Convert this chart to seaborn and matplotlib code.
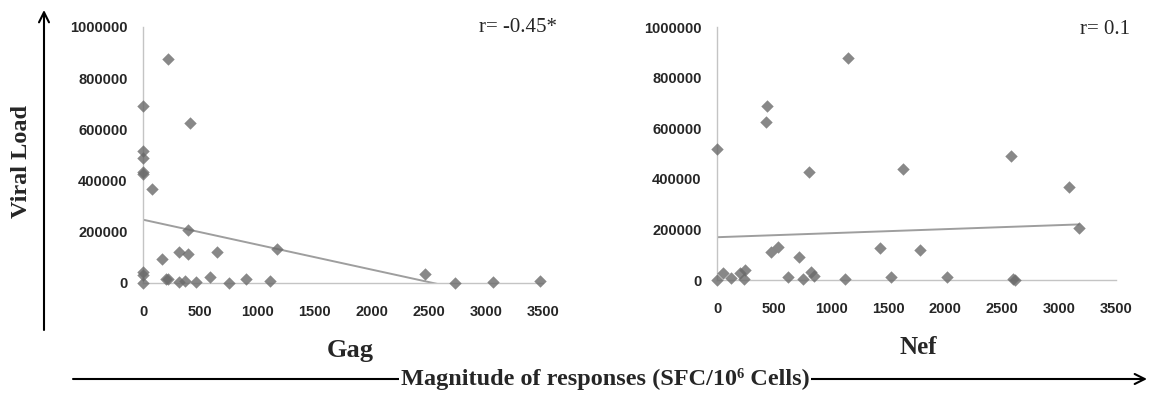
"""Viral load vs magnitude of Gag / Nef responses."""

import matplotlib
matplotlib.use("Agg")
import matplotlib.pyplot as plt
import pandas as pd
import seaborn as sns

# Gag responses (SFC/10^6 cells) and viral load
gag_sfc = [0, 0, 0, 0, 0, 0, 0, 0,
           80, 220, 412, 390, 319, 390, 645, 170, 1170,
           200, 217, 319, 366, 462, 585, 754, 903, 1114,
           2465, 2728, 3060, 3475]
gag_vl = [690000, 515000, 490000, 435000, 425000, 44000, 31000, 0,
          367000, 875000, 625000, 207000, 122000, 112000, 122000, 93000, 132000,
          14000, 16000, 5000, 8000, 5000, 25000, 0, 14000, 8000,
          35000, 0, 5000, 8000]

# Nef responses (SFC/10^6 cells) and viral load
nef_sfc = [0, 437, 431, 803, 1146, 473, 537, 723, 1430,
           0, 53, 127, 200, 244, 240, 620, 757, 825, 847, 1123,
           1630, 2577, 3090, 3172, 1785, 1522, 2014, 2600, 2610]
nef_vl = [516000, 688000, 626000, 426000, 877000, 112000, 132000, 92000, 125000,
          0, 26000, 7000, 29000, 40000, 3000, 11000, 3000, 33000, 16000, 3000,
          437000, 489000, 368000, 205000, 119000, 13000, 13000, 5000, 0]

panel_names = ["Gag", "Nef"]
r_labels = ["r= -0.45*", "r= 0.1"]
x_ticks = [0, 500, 1000, 1500, 2000, 2500, 3000, 3500]
y_ticks = [0, 200000, 400000, 600000, 800000, 1000000]

MARKER = "#6a6a6a"
TREND = "#9e9e9e"
SPINE = "#c4c4c4"
SERIF = ["Liberation Serif", "DejaVu Serif"]
TICKFONT = ["Liberation Sans Narrow", "Liberation Sans", "DejaVu Sans"]


def setup_style() -> None:
    sns.set_theme(style="white")
    plt.rcParams["font.family"] = TICKFONT
    plt.rcParams["font.weight"] = "bold"


def draw_panel(ax, sfc, vl) -> None:
    df = pd.DataFrame({"sfc": sfc, "vl": vl})
    sns.regplot(data=df, x="sfc", y="vl", ax=ax, ci=None, truncate=True,
                marker="D",
                scatter_kws={"s": 40, "color": MARKER, "clip_on": False,
                             "linewidths": 0, "zorder": 3},
                line_kws={"color": TREND, "lw": 1.4, "zorder": 2})
    ax.set_xlim(0, 3500)
    ax.set_ylim(0, 1000000)
    ax.set_xticks(x_ticks)
    ax.set_yticks(y_ticks)
    ax.set_xticklabels([str(v) for v in x_ticks], fontsize=10.5, fontweight="bold")
    ax.set_yticklabels([str(v) for v in y_ticks], fontsize=10.5, fontweight="bold")
    ax.set_xlabel("")
    ax.set_ylabel("")
    for side in ["top", "right"]:
        ax.spines[side].set_visible(False)
    for side in ["left", "bottom"]:
        ax.spines[side].set_color(SPINE)
        ax.spines[side].set_linewidth(1.0)
    ax.tick_params(axis="x", direction="out", length=4, width=1, color=SPINE, pad=12)
    ax.tick_params(axis="y", direction="out", length=4, width=1, color=SPINE, pad=7)
    ax.set_facecolor("none")


def main() -> None:
    setup_style()
    W, H = 1149, 393
    fig = plt.figure(figsize=(W / 100, H / 100), dpi=100)
    fig.patch.set_facecolor("white")

    def fx(px):
        return px / W

    def fy(py):
        return 1 - py / H

    ax1 = fig.add_axes([fx(143), fy(283), fx(543) - fx(143), fy(27) - fy(283)])
    ax2 = fig.add_axes([fx(717), fy(280), fx(1116) - fx(717), fy(27) - fy(280)])
    draw_panel(ax1, gag_sfc, gag_vl)
    draw_panel(ax2, nef_sfc, nef_vl)

    # correlation labels
    fig.text(fx(518), fy(28), r_labels[0], family=SERIF, fontsize=15,
             fontweight="normal", ha="center", va="center")
    fig.text(fx(1105), fy(30), r_labels[1], family=SERIF, fontsize=15,
             fontweight="normal", ha="center", va="center")

    # panel names
    fig.text(fx(350), fy(350), panel_names[0], family=SERIF, fontsize=19,
             fontweight="bold", ha="center", va="center")
    fig.text(fx(918), fy(348), panel_names[1], family=SERIF, fontsize=18,
             fontweight="bold", ha="center", va="center")

    # vertical arrow + label
    ax1.annotate("", xy=(fx(44), fy(10)), xytext=(fx(44), fy(330)),
                 xycoords="figure fraction", textcoords="figure fraction",
                 arrowprops=dict(arrowstyle="->", lw=1.5, color="black",
                                 mutation_scale=18, shrinkA=0, shrinkB=0),
                 annotation_clip=False)
    fig.text(fx(22), fy(161), "Viral Load", family=SERIF, fontsize=17.5,
             fontweight="bold", rotation=90, ha="center", va="center")

    # horizontal arrow + label
    ax1.annotate("", xy=(fx(1147), fy(379)), xytext=(fx(73), fy(379)),
                 xycoords="figure fraction", textcoords="figure fraction",
                 arrowprops=dict(arrowstyle="->", lw=1.5, color="black",
                                 mutation_scale=18, shrinkA=0, shrinkB=0),
                 annotation_clip=False)
    fig.text(fx(605), fy(379), "Magnitude of responses (SFC/10\u2076 Cells)",
             family=SERIF, fontsize=17.5, fontweight="bold", ha="center", va="center",
             bbox=dict(facecolor="white", edgecolor="none", pad=1))

    fig.savefig("out.png", dpi=100)
    plt.close(fig)


if __name__ == "__main__":
    main()
